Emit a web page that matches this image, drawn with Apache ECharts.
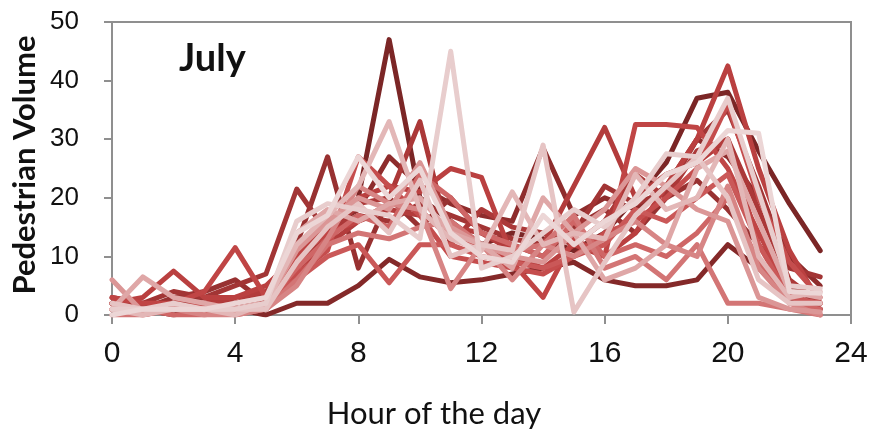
<!DOCTYPE html>
<html>
<head>
<meta charset="utf-8">
<script src="https://cdn.jsdelivr.net/npm/echarts@6/dist/echarts.min.js"></script>
<style>html,body{margin:0;padding:0;background:#fff}#c{width:873px;height:434px}</style>
</head>
<body>
<div id="c"></div>
<script>
var hours = [0,1,2,3,4,5,6,7,8,9,10,11,12,13,14,15,16,17,18,19,20,21,22,23];
var xTicks = [0,4,8,12,16,20,24];
var yTicks = [0,10,20,30,40,50];
var d1  = [2,1,1,2,1,1, 8,12,20,47,20,16, 12,14,13,11, 14,20,26,37,38,28,19,11];
var d2  = [1,1,0,1,1,0, 2,2,5,9.5,6.5,5.5, 6,7,8,9, 6,5,5,6,12,8,3,1];
var d3  = [3,2,2,3,2,3, 10,15,18,27,22,19, 17,16,28.5,17, 20,18,22,30,27,20,10,5];
var d4  = [2,1,3,4,6,2, 12,27,8,20,15,20, 14,12,10,15, 18,14,20,23,18,12,5,2];
var d5  = [2,2,4,3,5,7, 21.5,14,17,16,19,17, 15,13,12,14, 22,19,21,30,35,22,8,6.5];
var d6  = [1,1,2,2,2,4, 9,13,19,20,33,12, 18,15,14,12, 16,24,20,28,30,18,6,2];
var d7  = [2,1,1,2,3,4, 8,12,16,18,17,15, 14,11,12,22, 32,20,24,26,30,12,4,1];
var d8  = [2,3,7.5,3,3,5, 10,15,20,22,21,25, 23.5,10,8,12, 10,14,22,30,42.5,25,11,2];
var d9  = [3,2,2,4,11.5,3, 10,14,16,19,18,13, 12,9,3,13, 10,32.5,32.5,32,25,14,4,0];
var d10 = [1,0,1,2,1,2, 7,11,27,22,17,10, 9,8,7,10, 14,16,20,25,36,20,9,3];
var d11 = [2,1,1,1,2,3, 6,10,12,5.5,12,12, 10,9,8,10, 12,18,16,20,24,12,3,2];
var d12 = [1,1,0,0,1,2, 8,13,17,15,24,20, 14,12,10,16, 10,12,10,14,20,9,2,1];
var d13 = [0,0,1,1,0,1, 6,12,14,13,15,16, 12,11,12,17, 8,10,6,12,2,2,1,0];
var d14 = [1,1,1,0,0,1, 5,13,22,19,18,4.5, 12,6,12,10, 13,16,12,10,22,8,2,0];
var d15 = [6,0.5,1,1,1,2, 11,16,20,18,26,15, 12,10,9,14, 18,25,22,18,16,3,1,0.5];
var d16 = [1,6.5,3,2,1,1, 14,18,16,19,20,14, 12,8,20,14, 6,8,12,25,28,16,4,3];
var d17 = [1,0,1,1,0,2, 12,17,22,33,18,13, 11,21,12,14, 13,24,18,20,30,10,3,4];
var d18 = [2,1,1,1,1,1, 9,15,19,14,23,10, 12,11,29,0.5, 9,17,22,27,20,6,2,2];
var d19 = [1,1,2,1,1,2, 16,19,18,17,13,45, 8,10,14,18, 15,20,27.5,27,37,21,5,4.5];
var d20 = [0,1,1,1,2,3, 14,17,27,20,25,14, 10,9,17,12, 16,19,24,26,31.5,31,4,3.7];
var allSeries = [d1,d2,d3,d4,d5,d6,d7,d8,d9,d10,d11,d12,d13,d14,d15,d16,d17,d18,d19,d20];
var palette = ['#7b2626','#842929','#8e2c2c','#983131','#a23535','#ab3838','#b33c3c','#ba4040','#c04545','#c54d4d',
               '#ca5858','#cf6666','#d37575','#d78585','#db9696','#dfa7a7','#e3b7b7','#e6c4c4','#e8cdcd','#ecd6d6'];

var chart = echarts.init(document.getElementById('c'), null, {renderer:'canvas'});
var series = allSeries.map(function(arr, i){
  return {
    type:'line', data: arr.map(function(v, j){ return [hours[j], v]; }),
    showSymbol:false, symbol:'none', silent:true, animation:false,
    lineStyle:{width:5, color: palette[i], cap:'round', join:'round'},
    z: 2 + i
  };
});
chart.setOption({
  animation:false,
  grid:{left:112, right:22, top:22, bottom:119, show:true, borderColor:'#8f8f8f', borderWidth:2, backgroundColor:'transparent'},
  xAxis:{type:'value', min:xTicks[0], max:xTicks[xTicks.length-1], interval:4,
    axisLine:{show:true, lineStyle:{color:'#8f8f8f', width:2}},
    axisTick:{show:true, inside:false, length:9, lineStyle:{color:'#8f8f8f', width:2}},
    axisLabel:{color:'#111', fontFamily:'Liberation Sans', fontSize:30, margin:24},
    splitLine:{show:false}},
  yAxis:{type:'value', min:yTicks[0], max:yTicks[yTicks.length-1], interval:10,
    axisLine:{show:true, lineStyle:{color:'#8f8f8f', width:2}},
    axisTick:{show:true, inside:false, length:8, lineStyle:{color:'#8f8f8f', width:2}},
    axisLabel:{color:'#111', fontFamily:'Liberation Sans', fontSize:26, margin:33},
    splitLine:{show:false}},
  graphic:[
    {type:'text', left:179, top:40, style:{text:'July', font:'bold 38px Lato', fill:'#111'}},
    {type:'text', x:434, y:414, style:{text:'Hour of the day', font:'31px Lato', fill:'#111', textAlign:'center', textVerticalAlign:'middle'}},
    {type:'text', x:25, y:165, rotation:Math.PI/2, style:{text:'Pedestrian Volume', font:'bold 31px Lato', fill:'#111', textAlign:'center', textVerticalAlign:'middle'}}
  ],
  series: series
});
</script>
</body>
</html>
